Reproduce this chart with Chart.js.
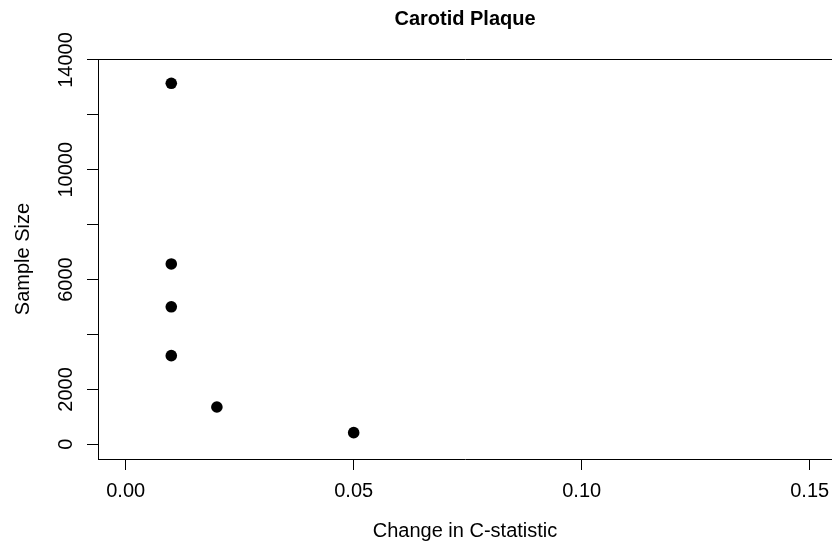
<!DOCTYPE html>
<html><head><meta charset="utf-8">
<script src="https://cdn.jsdelivr.net/npm/chart.js@4/dist/chart.umd.min.js"></script>
<style>html,body{margin:0;padding:0;background:#fff;overflow:hidden}#wrap{width:832px;height:548px}</style>
</head><body><div id="wrap"><canvas id="c" width="832" height="548"></canvas></div>
<script>
const changeInC = [0.01, 0.01, 0.01, 0.01, 0.02, 0.05];
const sampleSize = [13150, 6570, 5010, 3230, 1360, 425];
const xTickValues = [0, 0.05, 0.10, 0.15];
const xTickLabels = ['0.00', '0.05', '0.10', '0.15'];
const yTickValues = [0, 2000, 4000, 6000, 8000, 10000, 12000, 14000];
const yTickLabels = ['0', '2000', '', '6000', '', '10000', '', '14000'];
const xLimits = [-0.00607, 0.15489];
const yLimits = [-535, 14036];
const chartTitle = 'Carotid Plaque';
const xTitle = 'Change in C-statistic';
const yTitle = 'Sample Size';

const FONT = 'Liberation Sans, Arial, Helvetica, sans-serif';
const INK = '#000';

const points = changeInC.map((x, i) => ({x: x, y: sampleSize[i]}));

function noPad(s) {
  s.paddingLeft = 0; s.paddingRight = 0; s.paddingTop = 0; s.paddingBottom = 0;
}

new Chart(document.getElementById('c'), {
  type: 'scatter',
  data: {
    datasets: [{
      data: points,
      pointRadius: 5.8,
      pointHoverRadius: 5.8,
      pointBackgroundColor: INK,
      pointBorderWidth: 0,
      borderWidth: 0,
      clip: false
    }]
  },
  options: {
    responsive: false,
    devicePixelRatio: 1,
    animation: false,
    events: [],
    layout: {padding: 0, autoPadding: false},
    plugins: {
      legend: {display: false},
      tooltip: {enabled: false},
      title: {
        display: true,
        text: chartTitle,
        fullSize: false,
        color: INK,
        font: {family: FONT, size: 20, weight: 'bold', lineHeight: 1.2},
        padding: {top: 7, bottom: 0}
      }
    },
    scales: {
      x: {
        type: 'linear',
        position: 'bottom',
        min: xLimits[0],
        max: xLimits[1],
        afterBuildTicks: s => { s.ticks = xTickValues.map(v => ({value: v})); },
        afterFit: s => { s.height = 89; noPad(s); },
        ticks: {
          callback: (v, i) => xTickLabels[i],
          autoSkip: false,
          maxRotation: 0,
          minRotation: 0,
          padding: 9,
          color: INK,
          font: {family: FONT, size: 20, lineHeight: 1.2}
        },
        grid: {display: true, drawOnChartArea: false, drawTicks: true, tickLength: 11, color: INK, lineWidth: 1},
        border: {display: true, color: INK, width: 1},
        title: {
          display: true,
          text: xTitle,
          color: INK,
          font: {family: FONT, size: 20, lineHeight: 1.2},
          padding: {top: 0, bottom: 5}
        }
      },
      x2: {
        type: 'linear',
        position: 'top',
        min: xLimits[0],
        max: xLimits[1],
        display: true,
        afterFit: s => { s.height = 28; noPad(s); },
        ticks: {display: false},
        grid: {display: false, drawTicks: false},
        border: {display: true, color: INK, width: 1}
      },
      y: {
        type: 'linear',
        position: 'left',
        min: yLimits[0],
        max: yLimits[1],
        afterBuildTicks: s => { s.ticks = yTickValues.map(v => ({value: v})); },
        afterFit: s => { s.width = 98; noPad(s); },
        ticks: {
          callback: (v, i) => yTickLabels[i],
          autoSkip: false,
          minRotation: 90,
          maxRotation: 90,
          crossAlign: 'center',
          padding: -7,
          color: INK,
          font: {family: FONT, size: 20, lineHeight: 1.2}
        },
        grid: {display: true, drawOnChartArea: false, drawTicks: true, tickLength: 11, color: INK, lineWidth: 1},
        border: {display: true, color: INK, width: 1},
        title: {
          display: true,
          text: yTitle,
          color: INK,
          font: {family: FONT, size: 20, lineHeight: 1.2},
          padding: {top: 11, bottom: 0}
        }
      }
    }
  }
});
</script>
</body></html>
